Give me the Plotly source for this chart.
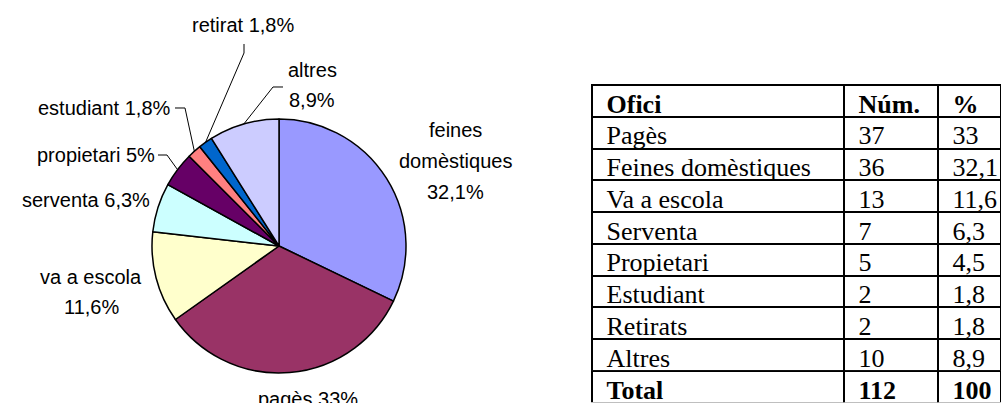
import math
import plotly.graph_objects as go

W, H = 1001, 403

# ---------------- data ----------------
# table (as printed)
oficis = ["Pagès", "Feines domèstiques", "Va a escola", "Serventa",
          "Propietari", "Estudiant", "Retirats", "Altres"]
nums = [37, 36, 13, 7, 5, 2, 2, 10]
pcts = ["33", "32,1", "11,6", "6,3", "4,5", "1,8", "1,8", "8,9"]
total_label = "Total"
total_num = 112
total_pct = "100"
header = ["Ofici", "Núm.", "%"]

# pie (clockwise from 12 o'clock)
pie_labels = ["feines domèstiques", "pagès", "va a escola", "serventa",
              "propietari", "estudiant", "retirat", "altres"]
pie_values = [36, 37, 13, 7, 5, 2, 2, 10]
pie_pct_text = ["32,1%", "33%", "11,6%", "6,3%", "5%", "1,8%", "1,8%", "8,9%"]

# ---------------- styles / layout ----------------
pie_colors = ["#9999FF", "#993366", "#FFFFCC", "#CCFFFF",
              "#660066", "#FF8080", "#0066CC", "#CCCCFF"]
CX, CY, R = 279, 246, 127          # pie centre / radius in pixels
LABEL_FONT = dict(family="Liberation Sans, Arial, sans-serif", size=20, color="black")
TABLE_FAMILY = "Liberation Serif, Times New Roman, serif"
TABLE_SIZE = 26

# label placement: (mode, x, first-line y, line step, xanchor)
label_place = [
    ("words", 455, 130, 31, "center"),
    ("one", 308, 399, 0, "center"),
    ("two", 91, 277, 30, "center"),
    ("one", 152, 200, 0, "right"),
    ("one", 157, 155, 0, "right"),
    ("one", 173, 108, 0, "right"),
    ("one", 243, 25, 0, "center"),
    ("two", 312, 70, 30, "center"),
]
# leader lines: index -> list of elbow points (pixels), ending at the slice
leaders = {
    4: [(158, 155), (167, 155)],
    5: [(175, 108), (185, 108)],
    6: [(244, 44), (244, 53)],
    7: [(283, 87), (273, 87)],
}


def px(x):
    return x / W


def py(y):
    return 1 - y / H


fig = go.Figure()

fig.add_trace(go.Pie(
    labels=pie_labels,
    values=pie_values,
    sort=False,
    direction="clockwise",
    rotation=0,
    marker=dict(colors=pie_colors, line=dict(color="black", width=1.5)),
    textinfo="none",
    hoverinfo="label+percent",
    showlegend=False,
    domain=dict(x=[px(CX - R), px(CX + R)], y=[py(CY + R), py(CY - R)]),
))

annotations = []
for i, (mode, x, y0, step, xa) in enumerate(label_place):
    if mode == "words":
        lines = pie_labels[i].split(" ") + [pie_pct_text[i]]
    elif mode == "two":
        lines = [pie_labels[i], pie_pct_text[i]]
    else:
        lines = [pie_labels[i] + " " + pie_pct_text[i]]
    for k, t in enumerate(lines):
        annotations.append(dict(
            x=px(x), y=py(y0 + k * step), xref="paper", yref="paper",
            text=t, showarrow=False, xanchor=xa, yanchor="middle",
            font=LABEL_FONT,
        ))

# leader lines derived from slice mid-angles
total = sum(pie_values)
shapes = []
cum = 0
mids = []
for v in pie_values:
    mids.append(2 * math.pi * (cum + v / 2) / total)
    cum += v
for i, pts in leaders.items():
    th = mids[i]
    ex, ey = CX + R * math.sin(th), CY - R * math.cos(th)
    allp = pts + [(ex, ey)]
    path = "M " + " L ".join(f"{px(a):.5f},{py(b):.5f}" for a, b in allp)
    shapes.append(dict(type="path", path=path, xref="paper", yref="paper",
                       line=dict(color="black", width=1)))

# table: header row, body rows and total row as three stacked tables
NB = "\u00a0"
TOP = 85
ROWPX = (H - TOP) / 10
X_DOM = [px(592), 1.0]
COLW = [252, 94, 63]


def add_table(cols, first_row, nrows, weight):
    y_top = TOP + first_row * ROWPX
    y_bot = y_top + nrows * ROWPX
    fig.add_trace(go.Table(
        domain=dict(x=X_DOM, y=[max(0.0, py(y_bot)), py(y_top)]),
        columnwidth=COLW,
        header=dict(values=[[] for _ in cols], height=0),
        cells=dict(values=[[NB + str(v) for v in c] for c in cols],
                   align="left", height=ROWPX - 0.05,
                   line=dict(color="black", width=2), fill=dict(color="white"),
                   font=dict(family=TABLE_FAMILY, size=TABLE_SIZE,
                             color="black", weight=weight)),
    ))


add_table([[header[0]], [header[1]], [header[2]]], 0, 1, "bold")
add_table([oficis, nums, pcts], 1, len(oficis), "normal")
add_table([[total_label], [total_num], [total_pct]], 1 + len(oficis), 1, "bold")

fig.update_layout(
    width=W, height=H,
    margin=dict(l=0, r=0, t=0, b=0),
    paper_bgcolor="white", plot_bgcolor="white",
    annotations=annotations, shapes=shapes,
    showlegend=False,
)

fig.write_html("out.html", config={"displayModeBar": False},
               post_script="document.body.style.margin='0';")
